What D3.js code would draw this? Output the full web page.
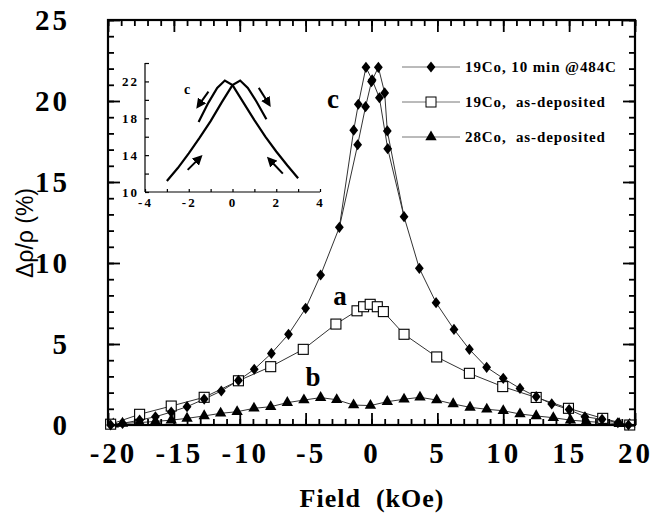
<!DOCTYPE html>
<html lang="en">
<head>
<meta charset="UTF-8">
<title>GMR</title>
<style>
  body { margin: 0; background: #fff; }
  svg { display: block; background: #fff; }
  .tick text { font-family: "Liberation Serif", serif; font-weight: bold; }
</style>
</head>
<body>
<div id="chart"></div>
<script src="https://cdn.jsdelivr.net/npm/d3@7/dist/d3.min.js"></script>
<script>
// curve c: 19Co, 10 min @484C (outer parts shared, two sweep branches near 0)
var cLeftX  = [-19.8, -18.9, -17.6, -16.4, -15.2, -14.0, -12.7, -11.4, -10.1, -8.9, -7.6, -6.3, -5.0, -3.86, -2.44];
var cLeftY  = [0.0, 0.1, 0.3, 0.51, 0.8, 1.13, 1.6, 2.1, 2.75, 3.44, 4.42, 5.6, 7.2, 9.26, 12.2];
var cUpX    = [-1.05, -0.45, 0.0, 0.52, 1.0, 1.2];
var cUpY    = [17.3, 19.65, 21.2, 22.08, 20.5, 18.15];
var cDownX  = [1.23, 0.6, 0.05, -0.42, -1.0, -1.35];
var cDownY  = [17.06, 20.2, 21.3, 22.08, 19.8, 18.2];
var cRightX = [2.47, 3.63, 4.9, 6.26, 7.43, 8.74, 10.0, 11.27, 12.5, 13.68, 15.0, 16.2, 17.5, 18.7, 19.5];
var cRightY = [12.86, 9.67, 7.55, 5.9, 4.67, 3.56, 2.88, 2.26, 1.75, 1.3, 0.95, 0.51, 0.35, 0.14, 0.0];

// curve a: 19Co, as-deposited
var aX = [-19.8, -17.6, -15.2, -12.7, -10.1, -7.65, -5.18, -2.7, -1.1, -0.6, -0.1, 0.44, 0.9, 2.47, 4.95, 7.43, 9.96, 12.5, 14.95, 17.55, 19.6];
var aY = [0.05, 0.66, 1.17, 1.71, 2.73, 3.6, 4.67, 6.23, 7.05, 7.3, 7.45, 7.3, 7.0, 5.6, 4.2, 3.19, 2.37, 1.7, 1.03, 0.41, 0.0];

// curve b: 28Co, as-deposited
var bX = [-19.6, -18.9, -17.6, -16.4, -15.2, -14.0, -12.7, -11.45, -10.2, -8.92, -7.65, -6.39, -5.13, -3.86, -2.64, -1.36, -0.08, 1.2, 2.47, 3.68, 4.95, 6.2, 7.48, 8.75, 10.0, 11.27, 12.5, 13.8, 15.1, 16.3, 17.6, 18.8, 19.6];
var bY = [0.05, 0.1, 0.15, 0.22, 0.3, 0.41, 0.56, 0.72, 0.82, 1.03, 1.13, 1.38, 1.54, 1.69, 1.56, 1.23, 1.2, 1.44, 1.59, 1.71, 1.54, 1.3, 1.09, 0.97, 0.88, 0.68, 0.56, 0.45, 0.3, 0.22, 0.15, 0.08, 0.03];

// inset: sweep branches of curve c at low field
var inUpX   = [-3.0, -2.5, -2.0, -1.5, -1.0, -0.5, 0.0, 0.35, 0.7, 1.1, 1.55];
var inUpY   = [11.2, 12.6, 14.2, 15.9, 17.7, 19.7, 21.6, 22.1, 21.3, 19.8, 17.9];
var inDownX = [3.0, 2.5, 2.0, 1.5, 1.0, 0.5, 0.0, -0.35, -0.7, -1.1, -1.55];
var inDownY = [11.5, 12.9, 14.4, 16.0, 17.8, 19.7, 21.6, 22.1, 21.3, 19.7, 17.6];
// inset arrows [x1, y1, x2, y2]
var inArrows = [[-1.1, 20.9, -1.55, 19.4], [1.2, 21.3, 1.65, 19.6], [-2.05, 12.4, -1.5, 13.7], [2.3, 12.0, 1.7, 13.5]];

var xTicks = [-20, -15, -10, -5, 0, 5, 10, 15, 20];
var yTicks = [0, 5, 10, 15, 20, 25];
var legendNames = ["19Co, 10 min @484C", "19Co,  as-deposited", "28Co,  as-deposited"];

var W = 653, H = 517;
var svg = d3.select('#chart').append('svg').attr('width', W).attr('height', H);

var x = d3.scaleLinear().domain([-20, 20]).range([108, 635]);
var y = d3.scaleLinear().domain([0, 25]).range([425, 20]);

function zip(xs, ys) { return xs.map(function(v, i) { return [v, ys[i]]; }); }

var line = d3.line().x(function(d) { return x(d[0]); }).y(function(d) { return y(d[1]); });

var cLeft = zip(cLeftX, cLeftY), cRight = zip(cRightX, cRightY);
var cUp = zip(cUpX, cUpY), cDown = zip(cDownX, cDownY);
var cBranch1 = cLeft.concat(cUp, cRight);
var cBranch2 = [cRight[0]].concat(cDown, [cLeft[cLeft.length - 1]]);
var aData = zip(aX, aY), bData = zip(bX, bY);

// lines
var lines = svg.append('g').attr('fill', 'none').attr('stroke', '#333').attr('stroke-width', 1);
lines.append('path').attr('d', line(bData));
lines.append('path').attr('d', line(aData));
lines.append('path').attr('d', line(cBranch1));
lines.append('path').attr('d', line(cBranch2));

// markers
var tri = d3.symbol().type(d3.symbolTriangle).size(56);
var dia = 'M0,-5.6L4.4,0L0,5.6L-4.4,0Z';

svg.append('g').selectAll('path').data(bData).enter().append('path')
  .attr('d', tri)
  .attr('transform', function(d) { return 'translate(' + x(d[0]) + ',' + y(d[1]) + ')'; })
  .attr('fill', '#000');

svg.append('g').selectAll('rect').data(aData).enter().append('rect')
  .attr('x', function(d) { return x(d[0]) - 5; })
  .attr('y', function(d) { return y(d[1]) - 5; })
  .attr('width', 10).attr('height', 10)
  .attr('fill', '#fff').attr('stroke', '#000').attr('stroke-width', 1.1);

svg.append('g').selectAll('path').data(cLeft.concat(cUp, cDown, cRight)).enter().append('path')
  .attr('d', dia)
  .attr('transform', function(d) { return 'translate(' + x(d[0]) + ',' + y(d[1]) + ')'; })
  .attr('fill', '#000');

// frame
svg.append('rect')
  .attr('x', x(-20)).attr('y', y(25))
  .attr('width', x(20) - x(-20)).attr('height', y(0) - y(25))
  .attr('fill', 'none').attr('stroke', '#000').attr('stroke-width', 2.2);

// ticks, all pointing inward
function ticksOf(g, axis) { g.call(axis); g.select('.domain').remove(); g.selectAll('line').attr('stroke-width', 1.8); }
var minorX = d3.range(-20, 21, 1), minorY = d3.range(0, 26, 1);

ticksOf(svg.append('g').attr('transform', 'translate(0,' + y(0) + ')'),
  d3.axisBottom(x).tickValues(minorX).tickSize(-6).tickFormat(''));
ticksOf(svg.append('g').attr('transform', 'translate(0,' + y(0) + ')'),
  d3.axisBottom(x).tickValues(xTicks).tickSize(-12).tickPadding(17).tickFormat(function(d) { return d; }));
ticksOf(svg.append('g').attr('transform', 'translate(0,' + y(25) + ')'),
  d3.axisTop(x).tickValues(minorX).tickSize(-6).tickFormat(''));
ticksOf(svg.append('g').attr('transform', 'translate(0,' + y(25) + ')'),
  d3.axisTop(x).tickValues(xTicks).tickSize(-12).tickFormat(''));
ticksOf(svg.append('g').attr('transform', 'translate(' + x(-20) + ',0)'),
  d3.axisLeft(y).tickValues(minorY).tickSize(-6).tickFormat(''));
ticksOf(svg.append('g').attr('transform', 'translate(' + x(-20) + ',0)'),
  d3.axisLeft(y).tickValues(yTicks).tickSize(-12).tickPadding(38).tickFormat(function(d) { return d; }));
ticksOf(svg.append('g').attr('transform', 'translate(' + x(20) + ',0)'),
  d3.axisRight(y).tickValues(minorY).tickSize(-6).tickFormat(''));
ticksOf(svg.append('g').attr('transform', 'translate(' + x(20) + ',0)'),
  d3.axisRight(y).tickValues(yTicks).tickSize(-12).tickFormat(''));

svg.selectAll('.tick text').attr('font-size', 29).attr('letter-spacing', 3).attr('fill', '#000');
// x labels: digits sit on the tick, the minus hangs to the left
svg.selectAll('.tick text').filter(function(d) { return this.getAttribute('dy') === '0.71em' && d < 0; })
  .attr('dx', 5);

// axis titles
svg.append('text').attr('x', 372).attr('y', 507).attr('text-anchor', 'middle')
  .attr('font-family', '"Liberation Serif", serif').attr('font-weight', 'bold').attr('font-size', 26)
  .attr('letter-spacing', 1).attr('xml:space', 'preserve').text('Field  (kOe)');
svg.append('text').attr('transform', 'translate(33,233) rotate(-90)').attr('text-anchor', 'middle')
  .attr('font-family', '"Liberation Sans", Arial, sans-serif').attr('font-size', 23)
  .text('\u0394\u03c1/\u03c1 (%)');

// curve letters
var serifBold = function(sel, size) { return sel.attr('font-family', '"Liberation Serif", serif').attr('font-weight', 'bold').attr('font-size', size); };
serifBold(svg.append('text').attr('x', 333).attr('y', 108).attr('text-anchor', 'middle'), 27).text('c');
serifBold(svg.append('text').attr('x', 340).attr('y', 305).attr('text-anchor', 'middle'), 27).text('a');
serifBold(svg.append('text').attr('x', 313).attr('y', 386).attr('text-anchor', 'middle'), 27).text('b');

// legend
var lg = svg.append('g');
legendNames.forEach(function(name, i) {
  var ly = 67 + i * 35;
  lg.append('line').attr('x1', 402).attr('x2', 460).attr('y1', ly).attr('y2', ly).attr('stroke', '#777').attr('stroke-width', 1);
  if (i === 0) lg.append('path').attr('d', dia).attr('transform', 'translate(431,' + ly + ')');
  if (i === 1) lg.append('rect').attr('x', 426).attr('y', ly - 5).attr('width', 10).attr('height', 10).attr('fill', '#fff').attr('stroke', '#000');
  if (i === 2) lg.append('path').attr('d', tri).attr('transform', 'translate(431,' + ly + ')');
  serifBold(lg.append('text').attr('x', 465).attr('y', ly + 5), 15).attr('letter-spacing', 0.9)
    .attr('xml:space', 'preserve').text(name);
});

// inset
var ix = d3.scaleLinear().domain([-4, 4]).range([145, 320]);
var iy = d3.scaleLinear().domain([10, 24]).range([192, 63]);
var inset = svg.append('g');
inset.append('line').attr('x1', ix(-4)).attr('x2', ix(4)).attr('y1', iy(10)).attr('y2', iy(10)).attr('stroke', '#000').attr('stroke-width', 1.2);
inset.append('line').attr('x1', ix(-4)).attr('x2', ix(-4)).attr('y1', iy(10)).attr('y2', iy(24)).attr('stroke', '#000').attr('stroke-width', 1.2);
inset.append('g').attr('transform', 'translate(0,' + iy(10) + ')')
  .call(d3.axisBottom(ix).tickValues(d3.range(-4, 5, 1)).tickSize(-3).tickPadding(6)
    .tickFormat(function(d) { return d % 2 === 0 ? d : ''; }));
inset.append('g').attr('transform', 'translate(' + ix(-4) + ',0)')
  .call(d3.axisLeft(iy).tickValues(d3.range(10, 25, 2)).tickSize(-4).tickPadding(6)
    .tickFormat(function(d) { return (d - 10) % 4 === 0 ? d : ''; }));
inset.selectAll('.domain').remove();
inset.selectAll('.tick line').attr('stroke-width', 1.2);
inset.selectAll('.tick text').attr('font-size', 13).attr('letter-spacing', 2).attr('fill', '#000');

var iline = d3.line().x(function(d) { return ix(d[0]); }).y(function(d) { return iy(d[1]); });
inset.append('path').attr('d', iline(zip(inUpX, inUpY))).attr('fill', 'none').attr('stroke', '#000').attr('stroke-width', 2.2);
inset.append('path').attr('d', iline(zip(inDownX, inDownY))).attr('fill', 'none').attr('stroke', '#000').attr('stroke-width', 2.2);

svg.append('defs').append('marker').attr('id', 'ah').attr('viewBox', '0 0 10 10')
  .attr('refX', 6).attr('refY', 5).attr('markerWidth', 5).attr('markerHeight', 5).attr('orient', 'auto')
  .append('path').attr('d', 'M0,0 L10,5 L0,10 z').attr('fill', '#000');
inArrows.forEach(function(a) {
  inset.append('line').attr('x1', ix(a[0])).attr('y1', iy(a[1])).attr('x2', ix(a[2])).attr('y2', iy(a[3]))
    .attr('stroke', '#000').attr('stroke-width', 2).attr('marker-end', 'url(#ah)');
});
serifBold(inset.append('text').attr('x', 187).attr('y', 94).attr('text-anchor', 'middle'), 14).text('c');
</script>
</body>
</html>
